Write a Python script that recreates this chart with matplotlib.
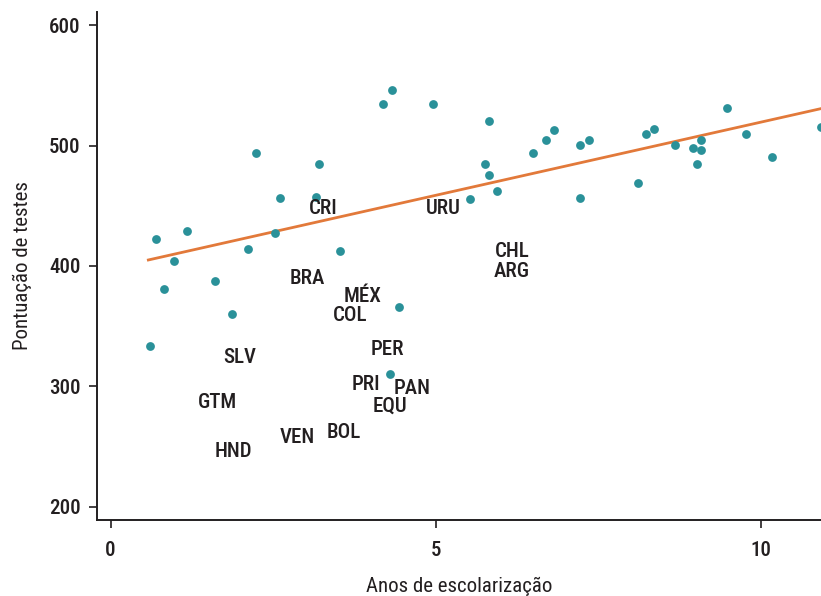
import matplotlib
matplotlib.use("Agg")
import matplotlib.pyplot as plt
import numpy as np

plt.rcParams['font.family'] = ['Roboto Condensed', 'Roboto', 'DejaVu Sans']

# Scatter points (years of schooling, test score)
years = [0.60, 0.69, 0.82, 0.98, 1.17, 1.60, 1.86, 2.11, 2.23, 2.53, 2.60,
         3.15, 3.21, 3.52, 4.19, 4.30, 4.32, 4.43, 4.95, 5.53, 5.75, 5.81,
         5.81, 5.94, 6.50, 6.69, 6.81, 7.21, 7.21, 7.35, 8.10, 8.23, 8.35,
         8.67, 8.95, 9.01, 9.08, 9.08, 9.47, 9.77, 10.16, 10.92]
scores = [333.6, 422.1, 380.9, 403.9, 429.3, 387.8, 360.2, 414.1, 494.0, 427.6, 456.7,
          457.0, 484.6, 412.4, 534.4, 310.1, 546.1, 366.2, 534.4, 455.4, 484.6, 520.1,
          475.8, 462.2, 494.0, 504.3, 513.1, 500.7, 456.4, 504.3, 469.1, 509.5, 513.4,
          500.7, 497.7, 484.6, 504.3, 496.3, 531.1, 509.5, 490.7, 515.1]

# Fitted line endpoints
line_x = [0.58, 11.0]
line_y = [405.0, 531.7]

# Country labels
countries = ["CRI", "URU", "CHL", "ARG", "BRA", "MÉX", "COL", "PER", "PRI", "PAN",
             "EQU", "BOL", "VEN", "SLV", "GTM", "HND"]
country_x = [3.27, 5.11, 6.17, 6.17, 3.03, 3.88, 3.68, 4.26, 3.92, 4.63,
             4.29, 3.59, 2.87, 1.98, 1.65, 1.89]
country_y = [447.9, 447.9, 411.9, 395.3, 390.0, 374.3, 358.5, 330.9, 301.8, 298.5,
             283.2, 262.0, 257.3, 324.2, 286.6, 245.9]

xticks = [0, 5, 10]
yticks = [200, 300, 400, 500, 600]

fig = plt.figure(figsize=(8.21, 5.96), dpi=100)
ax = fig.add_axes([0.1181, 0.1275, 0.8819, 0.8524])

ax.plot(line_x, line_y, color='#e2793a', lw=2.0, zorder=2)
ax.scatter(years, scores, s=40, color='#2a9199', zorder=3, linewidths=0)

txtcol = '#231f20'
for c, x, y in zip(countries, country_x, country_y):
    ax.text(x, y, c, ha='center', va='center', fontsize=15, color=txtcol,
            fontweight='medium')

ax.set_xlim(-0.21, 10.92)
ax.set_ylim(189, 611)
ax.set_xticks(xticks)
ax.set_yticks(yticks)

for s in ['top', 'right']:
    ax.spines[s].set_visible(False)
for s in ['left', 'bottom']:
    ax.spines[s].set_linewidth(1.4)
    ax.spines[s].set_color('#231f20')

ax.tick_params(axis='y', length=6, width=1.2, color='#231f20', labelsize=15,
               labelcolor=txtcol, pad=6)
ax.tick_params(axis='x', length=6, width=1.2, color='#231f20', labelsize=15,
               labelcolor=txtcol, pad=9)
for lab in ax.get_xticklabels() + ax.get_yticklabels():
    lab.set_fontweight('medium')

ax.set_xlabel('Anos de escolarização', fontsize=15, color=txtcol, labelpad=12)
ax.set_ylabel('Pontuação de testes', fontsize=15, color=txtcol, labelpad=12)

fig.savefig('out.png', dpi=100)
